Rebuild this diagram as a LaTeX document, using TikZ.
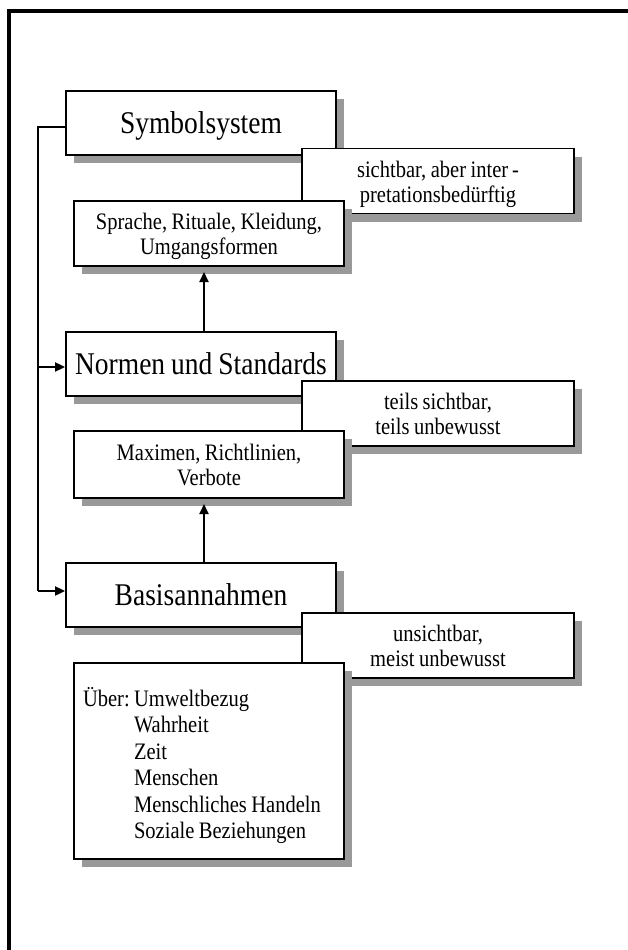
\documentclass[tikz,border=0pt]{standalone}
\usepackage{fontspec}
\setmainfont{Liberation Serif}[FakeStretch=0.87, WordSpace=0.87]
\usetikzlibrary{arrows.meta,shadows}
\begin{document}
\begin{tikzpicture}[x=1pt,y=-1pt,
  box/.style={draw=black, line width=1.8pt, fill=white, inner sep=0pt,
    drop shadow={shadow xshift=8pt, shadow yshift=-8pt, fill=black!40, opacity=1}},
  bigbox/.style={box, minimum width=270pt, minimum height=64pt,
    font=\fontsize{31.6}{36}\selectfont, text height=20pt, text depth=0pt},
  smallbox/.style={box, minimum width=#1, minimum height=65pt, align=center,
    font=\fontsize{23.6}{25}\selectfont, text height=46pt, text depth=4pt},
  conn/.style={line width=1.8pt},
  arr/.style={-{Triangle[length=10pt,width=9pt]}}
]
\useasboundingbox (0,0) rectangle (628,950);
\fill[white] (0,0) rectangle (628,950);
\draw[line width=3.3pt] (9,950) -- (9,11) -- (628,11);

% level 1
\node[bigbox] (sym) at (201,123) {Symbolsystem};
\node[smallbox=272pt] (sicht) at (438,181) {sichtbar, aber inter\,-\\pretationsbedürftig};
\node[smallbox=270pt] (spr) at (209,233.5) {Sprache, Rituale, Kleidung,\\Umgangsformen};

% level 2
\node[bigbox] (norm) at (201,364) {Normen und Standards};
\node[smallbox=272pt] (teils) at (438,413.5) {teils sichtbar,\\teils unbewusst};
\node[smallbox=270pt, minimum height=67pt] (max) at (209,464.5) {Maximen, Richtlinien,\\Verbote};

% level 3
\node[bigbox] (basis) at (201,595) {Basisannahmen};
\node[smallbox=272pt] (unsicht) at (438,645.5) {unsichtbar,\\meist unbewusst};
\node[box, minimum width=270pt, minimum height=196pt, text width=252pt,
  inner xsep=9pt, align=flush left, font=\fontsize{23.6}{26.5}\selectfont,
  text height=19pt, text depth=129pt] (ueber) at (209,761)
  {\makebox[51pt][l]{Über:}Umweltbezug\\
   \hspace*{51pt}Wahrheit\\
   \hspace*{51pt}Zeit\\
   \hspace*{51pt}Menschen\\
   \hspace*{51pt}Menschliches Handeln\\
   \hspace*{51pt}Soziale Beziehungen};

% connectors
\coordinate (r1) at (38,127);
\coordinate (r2) at (38,367);
\coordinate (r3) at (38,591);
\draw[conn] (sym.west |- r1) -- (r1) -- (r3);
\draw[conn,arr] (r2) -- (norm.west |- r2);
\draw[conn,arr] (r3) -- (basis.west |- r3);

\coordinate (a1) at (204,272);
\coordinate (a2) at (204,504);
\draw[conn,arr] (norm.north -| a1) -- (a1);
\draw[conn,arr] (basis.north -| a2) -- (a2);
\end{tikzpicture}
\end{document}
